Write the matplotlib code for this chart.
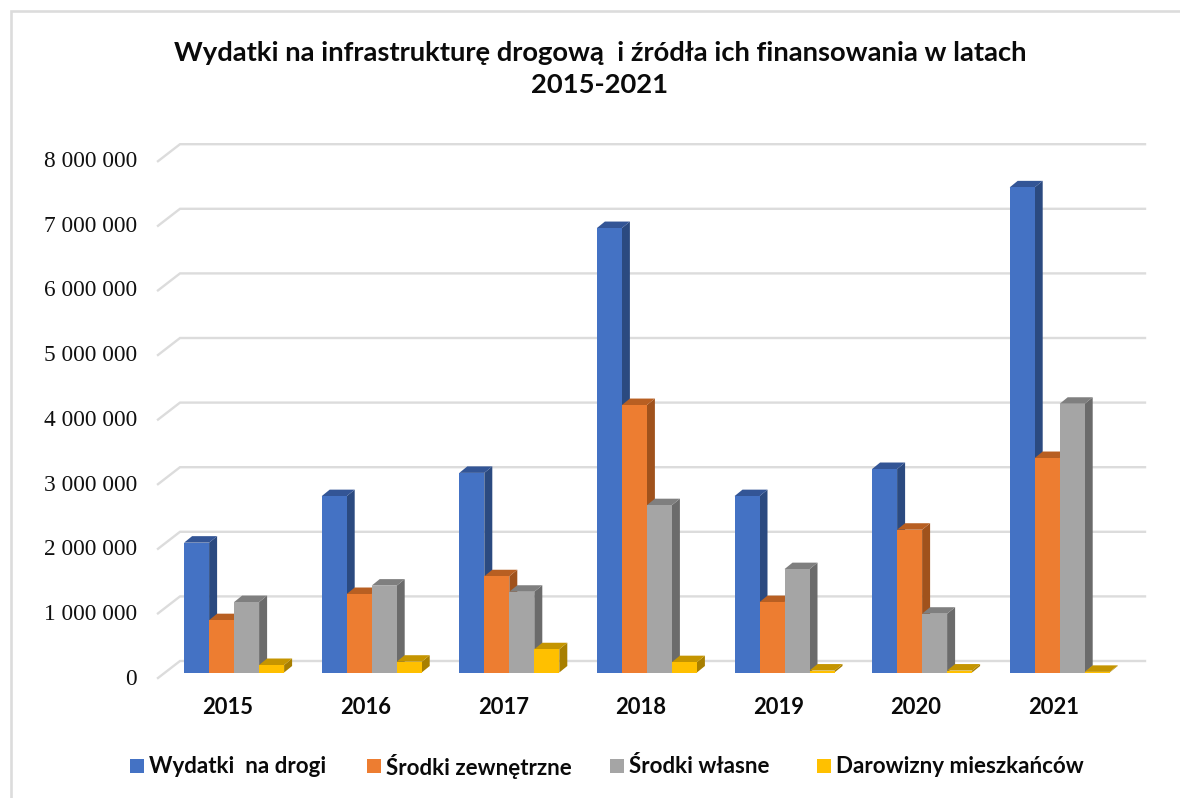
import matplotlib
matplotlib.use("Agg")
import matplotlib.pyplot as plt
from matplotlib.patches import Rectangle
from matplotlib.lines import Line2D

years = ["2015", "2016", "2017", "2018", "2019", "2020", "2021"]
wydatki = [2010000, 2730000, 3090000, 6880000, 2730000, 3150000, 7510000]
zewnetrzne = [810000, 1215000, 1490000, 4140000, 1090000, 2210000, 3320000]
wlasne = [1090000, 1345000, 1250000, 2590000, 1600000, 910000, 4160000]
darowizny = [116000, 167000, 360000, 160000, 30000, 30000, 10000]
series_names = ["Wydatki  na drogi", "Środki zewnętrzne", "Środki własne", "Darowizny mieszkańców"]
y_ticks = [0, 1000000, 2000000, 3000000, 4000000, 5000000, 6000000, 7000000, 8000000]
y_labels = ["0", "1 000 000", "2 000 000", "3 000 000", "4 000 000", "5 000 000", "6 000 000", "7 000 000", "8 000 000"]
title_text = "Wydatki na infrastrukturę drogową  i źródła ich finansowania w latach\n2015-2021"

face = ["#4472C4", "#ED7D31", "#A5A5A5", "#FFC000"]
top = ["#335596", "#B85F22", "#7F7F7F", "#C59500"]
side = ["#2B4A80", "#A0521C", "#6B6B6B", "#A87F00"]

W, H = 1180, 798
fig = plt.figure(figsize=(W / 100, H / 100), dpi=100)
fig.patch.set_facecolor("white")

def fx(px):
    return px / W
def fy(py):
    return 1 - py / H

# page frame: only the top and left edges are visible
fig.add_artist(Line2D([fx(10.5), fx(10.5), 1], [0, fy(11), fy(11)], transform=fig.transFigure,
                      color="#dcdcdc", lw=1.9, solid_joinstyle="miter"))

L, R, T, B = 165.3, 1128.5, 155.7, 672.5
ax = fig.add_axes([fx(L), fy(B), (R - L) / W, (B - T) / H])
ax.set_xlim(-0.5, 6.5)
ax.set_ylim(0, 8000000)
ax.axis("off")
sx = (R - L) / 7
sy = (B - T) / 8000000

# back wall grid
wall_left, wall_right, lift = 180, 1145, 11.5
for v, lab in zip(y_ticks, y_labels):
    y = v + lift / sy
    x0 = -0.5 + (wall_left - L) / sx
    x1 = -0.5 + (wall_right - L) / sx
    xf = -0.5 + (158 - L) / sx
    yf = v - 5.5 / sy
    ax.plot([xf, x0, x1], [yf, y, y], color="#dcdcdc", lw=1.7, clip_on=False, zorder=1,
            solid_joinstyle="miter")
    fig.text(fx(137), fy(B + 6.8 - v * 64.75e-6), lab, ha="right", va="center",
             family="Liberation Serif", fontsize=16.8, color="#111111")

# bars with a fake 3-D depth
bw = 25 / sx
dx = 8 / sx
dy = 6.5 / sy
series = [wydatki, zewnetrzne, wlasne, darowizny]
for s, vals in enumerate(series):
    for i, v in enumerate(vals):
        x = i + (s - 2) * bw
        z = 2 + (6 - i) * 0.01 + s * 0.1
        ax.fill([x + bw, x + bw + dx, x + bw + dx, x + bw], [0, dy, v + dy, v],
                color=side[s], lw=0, zorder=z, clip_on=False)
        ax.fill([x, x + dx, x + bw + dx, x + bw], [v, v + dy, v + dy, v],
                color=top[s], lw=0, zorder=z, clip_on=False)
        ax.bar(x, v, width=bw, align="edge", color=face[s], lw=0, zorder=z + 0.01)

# category labels
for i, yr in enumerate(years):
    ax.text(i - 6.0 / sx, -(707.5 - B) / sy, yr, ha="center", va="center", family="Lato", fontweight="bold",
            fontsize=15.8, color="#0a0a0a", clip_on=False)

fig.text(fx(600), fy(69), title_text, ha="center", va="center", family="Lato", fontweight="bold",
         fontsize=19.7, color="#0a0a0a", linespacing=1.42)

# legend
marks = [130, 367, 610, 817]
for x, name, c in zip(marks, series_names, face):
    fig.add_artist(Rectangle((fx(x), fy(773)), 14 / W, 14 / H, transform=fig.transFigure, fc=c, ec="none"))
    fig.text(fx(x + 19), fy(766.5), name, ha="left", va="center", family="Lato", fontweight="bold",
             fontsize=16.1, color="#0a0a0a")

fig.savefig("out.png", dpi=100, facecolor="white")
